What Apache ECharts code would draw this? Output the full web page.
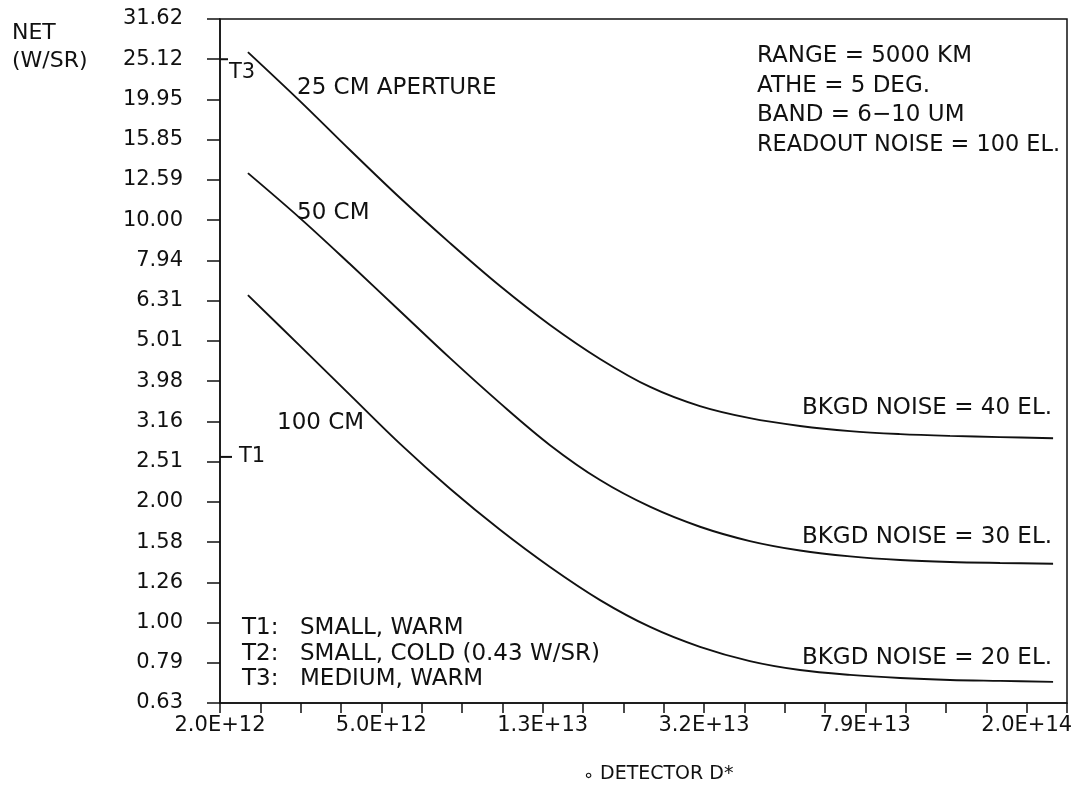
<!DOCTYPE html>
<html>
<head>
<meta charset="utf-8">
<script src="https://cdn.jsdelivr.net/npm/echarts@6/dist/echarts.min.js"></script>
<style>
  html, body { margin: 0; padding: 0; background: #fff; }
  #chart { width: 1077px; height: 788px; }
</style>
</head>
<body>
<div id="chart"></div>
<script>
// detector D* sample points, shared by the three curves
const detectorD = [2.34e12, 3.15e12, 4.19e12, 5.58e12, 7.42e12, 9.87e12, 1.313e13, 1.747e13, 2.324e13,
  3.09e13, 4.11e13, 5.47e13, 7.28e13, 9.69e13, 1.288e14, 1.714e14, 2.32e14]
// NET (W/SR) for each aperture
const net25cm = [26.17, 19.77, 14.94, 11.35, 8.77, 6.86, 5.49, 4.52, 3.85, 3.45, 3.22, 3.08, 2.99, 2.94, 2.91, 2.89, 2.87]
const net50cm = [13.09, 10.12, 7.78, 5.94, 4.54, 3.51, 2.76, 2.26, 1.94, 1.73, 1.594, 1.51, 1.46, 1.43, 1.414, 1.406, 1.40]
const net100cm = [6.51, 4.87, 3.68, 2.78, 2.15, 1.70, 1.374, 1.137, 0.975, 0.870, 0.802, 0.762, 0.741, 0.728, 0.720, 0.716, 0.712]
// target levels marked on the NET axis
const targetNames = ['T1', 'T3']
const targetNet = [2.58, 25.12]
// axis range in decades, ticks every 0.1 decade
const xDecades = [12.3, 14.4]
const yDecades = [-0.2, 1.5]
const xLabelEvery = 4

const FONT = '23px "DejaVu Sans", sans-serif'
const INK = '#111'

// axes run in tenths of a decade so that the tick interval is 1
const lg = (v) => 10 * Math.log10(v)
const xMin = Math.round(xDecades[0] * 10)
const xMax = Math.round(xDecades[1] * 10)
const yMin = Math.round(yDecades[0] * 10)
const yMax = Math.round(yDecades[1] * 10)

function curve(name, values) {
  return {
    name,
    type: 'line',
    data: detectorD.map((d, i) => [lg(d), lg(values[i])]),
    smooth: 0.35,
    showSymbol: false,
    lineStyle: { color: INK, width: 1.9 },
    z: 3
  }
}

function txt(text, x, y, align, font) {
  return {
    type: 'text',
    x, y,
    style: { text, font: font || FONT, fill: INK, align: align || 'left', verticalAlign: 'middle' }
  }
}

const chart = echarts.init(document.getElementById('chart'))

chart.setOption({
  animation: false,
  backgroundColor: '#fff',
  grid: {
    left: 220, right: 10, top: 19, bottom: 85,
    show: true, borderColor: INK, borderWidth: 1.5
  },
  xAxis: {
    type: 'value',
    min: xMin, max: xMax, interval: 1,
    axisLine: { onZero: false, lineStyle: { color: INK, width: 1.5 } },
    axisTick: { length: 10, lineStyle: { color: INK, width: 1.5 } },
    splitLine: { show: false },
    axisLabel: {
      margin: 12,
      color: INK,
      fontFamily: 'DejaVu Sans',
      fontSize: 21,
      formatter: (v) => ((Math.round(v) - xMin) % xLabelEvery === 0)
        ? Math.pow(10, v / 10).toExponential(1).toUpperCase() : ''
    }
  },
  yAxis: {
    type: 'value',
    min: yMin, max: yMax, interval: 1,
    axisLine: { onZero: false, lineStyle: { color: INK, width: 1.5 } },
    axisTick: { length: 13, lineStyle: { color: INK, width: 1.5 } },
    splitLine: { show: false },
    axisLabel: {
      margin: 37,
      color: INK,
      fontFamily: 'DejaVu Sans',
      fontSize: 21,
      showMinLabel: true,
      showMaxLabel: true,
      formatter: (v) => Math.pow(10, v / 10).toFixed(2)
    }
  },
  series: [
    curve('25 CM', net25cm),
    curve('50 CM', net50cm),
    curve('100 CM', net100cm),
    {
      name: 'targets',
      type: 'scatter',
      symbol: 'rect',
      itemStyle: { color: INK, opacity: 1 },
      label: {
        show: true,
        position: 'right',
        color: INK,
        opacity: 1,
        fontFamily: 'DejaVu Sans',
        fontSize: 21,
        formatter: (p) => p.name
      },
      emphasis: { disabled: true },
      data: targetNames.map((n, i) => ({
        name: n,
        value: [xMin, lg(targetNet[i])],
        symbolSize: n === 'T3' ? [8, 2] : [12, 2],
        symbolOffset: n === 'T3' ? [4, 0] : [6, 0],
        label: n === 'T3' ? { offset: [-4, 13] } : { offset: [2, 0] }
      })),
      z: 4
    }
  ],
  graphic: [
    txt('NET', 12, 33, 'left', '22px "DejaVu Sans", sans-serif'),
    txt('(W/SR)', 12, 61, 'left', '22px "DejaVu Sans", sans-serif'),
    txt('25 CM APERTURE', 297, 88),
    txt('50 CM', 297, 213),
    txt('100 CM', 277, 423),
    txt('RANGE = 5000 KM', 757, 56),
    txt('ATHE = 5 DEG.', 757, 86),
    txt('BAND = 6\u221210 UM', 757, 115),
    txt('READOUT NOISE = 100 EL.', 757, 145, 'left', '22.4px "DejaVu Sans", sans-serif'),
    txt('BKGD NOISE = 40 EL.', 1052, 408, 'right'),
    txt('BKGD NOISE = 30 EL.', 1052, 537, 'right'),
    txt('BKGD NOISE = 20 EL.', 1052, 658, 'right'),
    txt('T1:', 242, 628),
    txt('SMALL, WARM', 300, 628),
    txt('T2:', 242, 654),
    txt('SMALL, COLD (0.43 W/SR)', 300, 654),
    txt('T3:', 242, 679),
    txt('MEDIUM, WARM', 300, 679),
    txt('\u2218', 583, 776, 'left', '18px "DejaVu Sans", sans-serif'),
    txt('DETECTOR D*', 600, 774, 'left', '19px "DejaVu Sans", sans-serif')
  ]
})
</script>
</body>
</html>
